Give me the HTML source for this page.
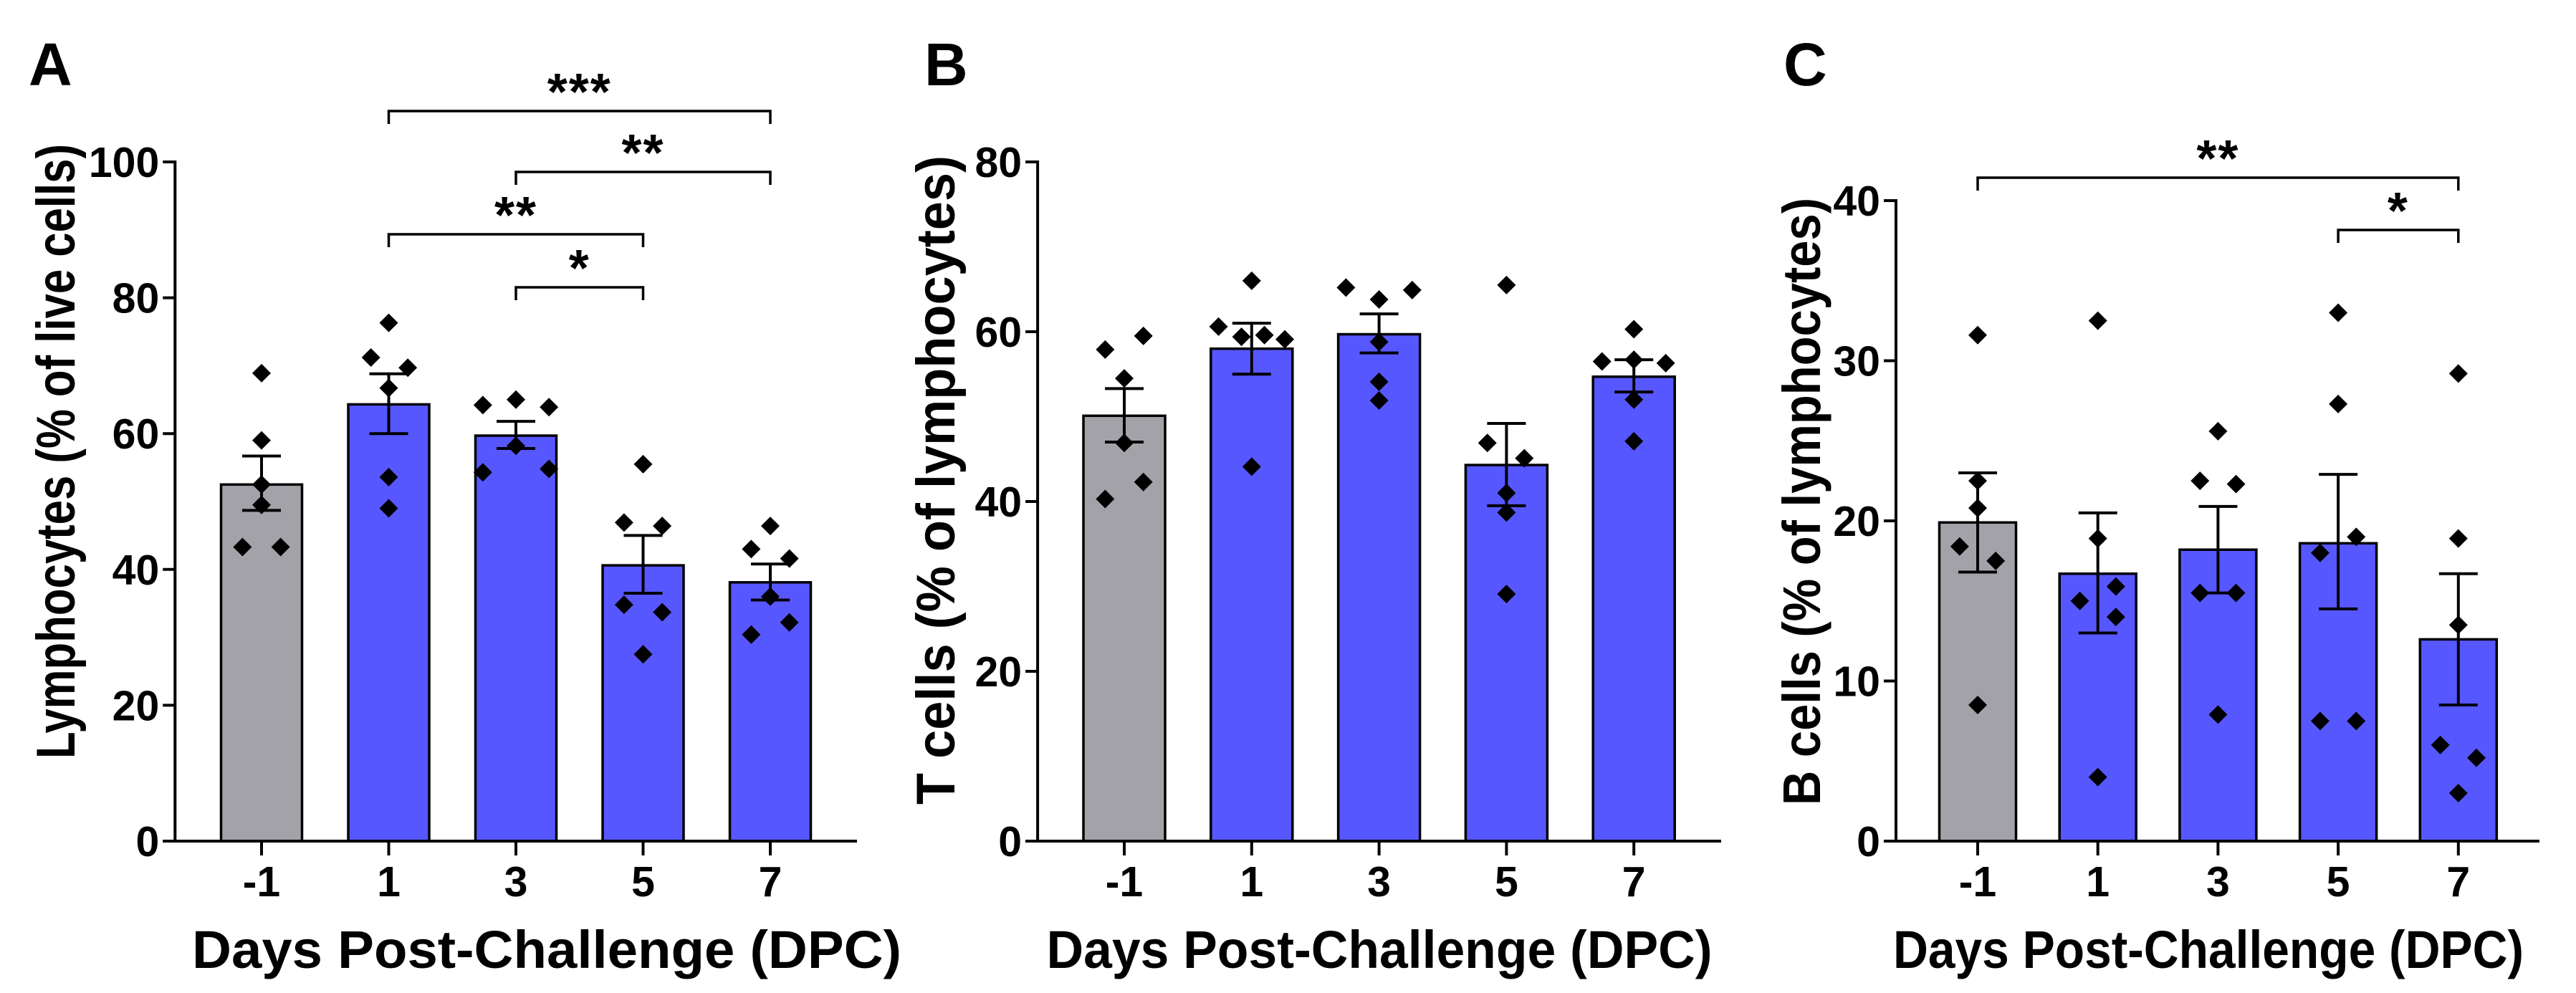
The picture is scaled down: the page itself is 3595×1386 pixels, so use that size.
<!DOCTYPE html>
<html><head><meta charset="utf-8"><style>
html,body{margin:0;padding:0;background:#fff;}
svg{display:block;font-family:"Liberation Sans",Arial,sans-serif;font-weight:bold;}
</style></head><body>
<svg id="fig" width="3595" height="1386" viewBox="0 0 3595 1386" xmlns="http://www.w3.org/2000/svg"></svg>
<script>
const categories = ["-1","1","3","5","7"];
// Panel A
const aMeans = [52.5,64.3,59.7,40.6,38.1];
const aLow = [48.7,60.0,57.8,36.5,35.5];
const aHigh = [56.7,68.8,61.8,45.0,40.8];
const aPoints = [[68.9,59.0,52.5,49.5,43.3,43.3],[76.3,71.2,69.7,66.7,53.6,49.0],[64.2,65.0,63.9,58.2,54.3,54.8],[55.5,46.9,46.4,34.8,33.7,27.5],[46.4,43.0,41.6,36.0,30.4,32.2]];
const aJitter = [[0,0,0,0,-0.15,0.15],[0,-0.14,0.15,0,0,0],[-0.26,0,0.26,0,-0.26,0.26],[0,-0.15,0.15,-0.15,0.15,0],[0,-0.15,0.15,0,-0.15,0.15]];
const aTicks = [0,20,40,60,80,100];
const aSig = [[1,4,"***"],[2,4,"**"],[1,3,"**"],[2,3,"*"]];
// Panel B
const bMeans = [50.1,58.0,59.7,44.3,54.7];
const bLow = [47.0,55.0,57.5,39.5,52.9];
const bHigh = [53.3,61.0,62.1,49.2,56.7];
const bPoints = [[57.9,59.5,54.5,46.9,42.3,40.3],[66.0,60.6,59.4,59.6,59.1,44.1],[65.2,63.8,64.9,58.8,54.1,51.9],[65.5,46.9,45.1,41.0,38.7,29.1],[60.3,56.5,56.7,56.3,52.0,47.1]];
const bJitter = [[-0.15,0.15,0,0,0.15,-0.15],[0,-0.26,-0.08,0.1,0.26,0],[-0.26,0,0.26,0,0,0],[0,-0.15,0.14,0,0,0],[0,-0.25,0,0.25,0,0]];
const bTicks = [0,20,40,60,80];
const bSig = [];
// Panel C
const cMeans = [19.9,16.7,18.2,18.6,12.6];
const cLow = [16.8,13.0,15.5,14.5,8.5];
const cHigh = [23.0,20.5,20.9,22.9,16.7];
const cPoints = [[31.6,22.5,20.8,18.4,17.5,8.5],[32.5,18.9,15.9,15.0,14.0,4.0],[25.6,22.5,22.3,15.5,15.5,7.9],[33.0,27.3,19.0,18.0,7.5,7.5],[29.2,18.9,13.5,6.0,5.2,3.0]];
const cJitter = [[0,0,0,-0.15,0.15,0],[0,0,0.15,-0.15,0.15,0],[0,-0.15,0.15,-0.15,0.15,0],[0,0,0.15,-0.15,-0.15,0.15],[0,0,0,-0.15,0.15,0]];
const cTicks = [0,10,20,30,40];
const cSig = [[0,4,"**"],[3,4,"*"]];
const barColors = ["#a3a2a8","#5757ff","#5757ff","#5757ff","#5757ff"];

const NS="http://www.w3.org/2000/svg";
const svg=document.getElementById('fig');
function mk(tag,attrs,parent,text){const e=document.createElementNS(NS,tag);for(const k in attrs)e.setAttribute(k,attrs[k]);if(text!==undefined)e.textContent=text;(parent||svg).appendChild(e);return e;}

function panel(o){
  const g=mk('g',{});
  
  
  const ymax=o.ticks[o.ticks.length-1];
  const y=v=>o.y0-(o.y0-o.yTop)*v/ymax;
  const x=i=>o.x0+o.step*i;
  const axX=o.x0-o.step*0.68;
  const L=mk('text',{x:o.lx,y:119,'font-size':84},g,o.letter);
  
  
  o.means.forEach((m,i)=>{
    const r=mk('rect',{x:x(i)-o.bw/2,y:y(m),width:o.bw,height:o.y0-y(m),fill:barColors[i],stroke:'#000','stroke-width':3.5},g);
    
    
  });
  o.points.forEach((arr,i)=>arr.forEach((v,j)=>{
    const cx=x(i)+o.jitter[i][j]*o.step, cy=y(v), s=13;
    const p=mk('polygon',{points:`${cx},${cy-s} ${cx+s},${cy} ${cx},${cy+s} ${cx-s},${cy}`,fill:'#000'},g);
    
    
  }));
  o.means.forEach((m,i)=>{
    const eg=mk('g',{stroke:'#000','stroke-width':4},g);
    
    
    mk('line',{x1:x(i),x2:x(i),y1:y(o.low[i]),y2:y(o.high[i])},eg);
    mk('line',{x1:x(i)-27,x2:x(i)+27,y1:y(o.low[i]),y2:y(o.low[i])},eg);
    mk('line',{x1:x(i)-27,x2:x(i)+27,y1:y(o.high[i]),y2:y(o.high[i])},eg);
  });
  const ax=mk('g',{stroke:'#000','stroke-width':4},g);
  
  
  mk('line',{x1:axX,x2:axX,y1:o.yTop-2,y2:o.y0+2},ax);
  mk('line',{x1:axX-17,x2:o.xEnd,y1:o.y0,y2:o.y0},ax);
  o.ticks.forEach(t=>{
    mk('line',{x1:axX-17,x2:axX,y1:y(t),y2:y(t)},ax);
    const tl=mk('text',{x:axX-22,y:y(t)+21,'font-size':59,'text-anchor':'end'},g,String(t));
    
    
  });
  categories.forEach((c,i)=>{
    mk('line',{x1:x(i),x2:x(i),y1:o.y0,y2:o.y0+20},ax);
    const tl=mk('text',{x:x(i),y:1251,'font-size':59,'text-anchor':'middle'},g,c);
    
    
  });
  const xt=mk('text',{x:o.xtx,y:1351,'font-size':74,'text-anchor':'middle',textLength:o.xtl,lengthAdjust:'spacingAndGlyphs'},g,'Days Post-Challenge (DPC)');
  
  
  const yt=mk('text',{x:0,y:0,'font-size':o.ytfs,'text-anchor':'middle',textLength:o.ytl,lengthAdjust:'spacingAndGlyphs',transform:`translate(${o.ytx},${o.ytc}) rotate(-90)`},g,o.ytitle);
  
  
  o.sig.forEach((s,k)=>{
    const by=o.sigY[k];
    const sg=mk('g',{},g);
    
    
    mk('polyline',{points:`${x(s[0])},${by+18} ${x(s[0])},${by} ${x(s[1])},${by} ${x(s[1])},${by+18}`,fill:'none',stroke:'#000','stroke-width':3.5},sg);
    mk('text',{x:(x(s[0])+x(s[1]))/2,y:by-2,'font-size':72,'text-anchor':'middle','letter-spacing':2},sg,s[2]);
  });
}
panel({letter:'A',lx:40,x0:365,step:177.5,bw:113,y0:1174,yTop:226,xEnd:1196,ticks:aTicks,means:aMeans,low:aLow,high:aHigh,points:aPoints,jitter:aJitter,sig:aSig,sigY:[155,240,327,401],xtx:763,xtl:990,ytx:104,ytc:630,ytfs:76,ytl:858,ytitle:'Lymphocytes  (% of live cells)'});
panel({letter:'B',lx:1290,x0:1569,step:177.8,bw:114,y0:1174,yTop:226,xEnd:2402,ticks:bTicks,means:bMeans,low:bLow,high:bHigh,points:bPoints,jitter:bJitter,sig:bSig,sigY:[],xtx:1925,xtl:929,ytx:1332,ytc:670,ytfs:76,ytl:906,ytitle:'T cells (% of lymphocytes)'});
panel({letter:'C',lx:2489,x0:2760,step:167.7,bw:107,y0:1174,yTop:280,xEnd:3544,ticks:cTicks,means:cMeans,low:cLow,high:cHigh,points:cPoints,jitter:cJitter,sig:cSig,sigY:[248,321],xtx:3082,xtl:880,ytx:2540,ytc:700,ytfs:74,ytl:848,ytitle:'B cells (% of lymphocytes)'});
</script>
</body></html>
